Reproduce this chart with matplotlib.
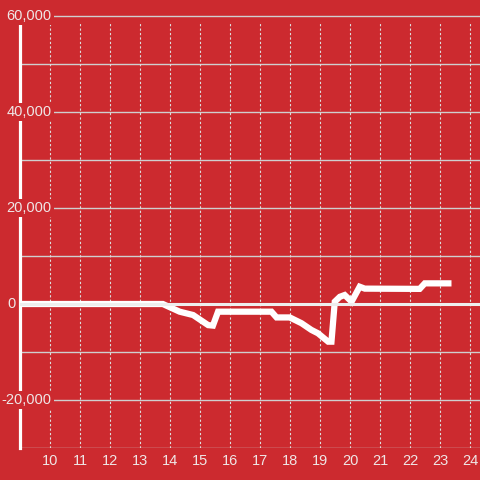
import matplotlib
matplotlib.use("Agg")
import matplotlib.pyplot as plt

# values
hours = [9.0, 13.76, 14.32, 14.77, 15.27, 15.43, 15.6, 17.38, 17.55, 17.99,
         18.38, 18.71, 18.93, 19.27, 19.38, 19.49, 19.66, 19.82, 20.05,
         20.32, 20.49, 22.32, 22.49, 23.38]
values = [0, 0, -1600, -2300, -4400, -4500, -1600, -1600, -2800, -2800,
          -4000, -5400, -6100, -7850, -7850, 480, 1500, 1870, 480,
          3600, 3200, 3150, 4300, 4300]

x_ticks = list(range(10, 25))
y_grid = list(range(-30000, 60001, 10000))
y_labels = [60000, 40000, 20000, 0, -20000]

BG = "#CC2A2F"
TXT = "#EFE6E6"

plt.rcParams["font.family"] = ["Liberation Sans", "DejaVu Sans"]

fig = plt.figure(figsize=(4.8, 4.8), dpi=100, facecolor=BG)
ax = fig.add_axes([20 / 480, 32 / 480, 460 / 480, 448 / 480])
ax.set_facecolor(BG)
ax.set_xlim(9.0, 24.33)
ax.set_ylim(-30000, 63333)

for s in ["top", "right", "bottom"]:
    ax.spines[s].set_visible(False)
ax.spines["left"].set_color("white")
ax.spines["left"].set_linewidth(2.3)
ax.spines["left"].set_bounds(-30000, 58400)
ax.spines["left"].set_zorder(2.5)

ax.set_xticks([])
ax.set_yticks([])

# horizontal grid
for v in y_grid:
    if v == 0:
        continue
    ax.axhline(v, color="#CFCFCF", lw=1.0, zorder=1)
# vertical dotted grid
ax.vlines(x_ticks, -30000, 58500, colors="#DDDDDD", lw=0.8,
          linestyles=(0, (2, 2)), zorder=1)

ax.plot(hours, values, color="white", lw=4.5, zorder=3,
        solid_joinstyle="miter", solid_capstyle="butt")
ax.axhline(0, color="#EEEEEE", lw=2.2, zorder=4)

# y labels with background boxes over the axis line (right edge in pixels)
trans = matplotlib.transforms.blended_transform_factory(fig.transFigure, ax.transData)
for v in y_labels:
    lab = f"{v:,}"
    right = 16 if v == 0 else 51.5
    ax.text(right / 480, v, lab, transform=trans,
            ha="right", va="center", fontsize=10.5, color=TXT, zorder=6,
            bbox=dict(facecolor=BG, edgecolor="none", pad=1.5))

for t in x_ticks:
    ax.text(t, -0.03, str(t), transform=ax.get_xaxis_transform(),
            ha="center", va="center", fontsize=10.5, color=TXT, clip_on=False)

fig.savefig("out.png", dpi=100, facecolor=BG)
